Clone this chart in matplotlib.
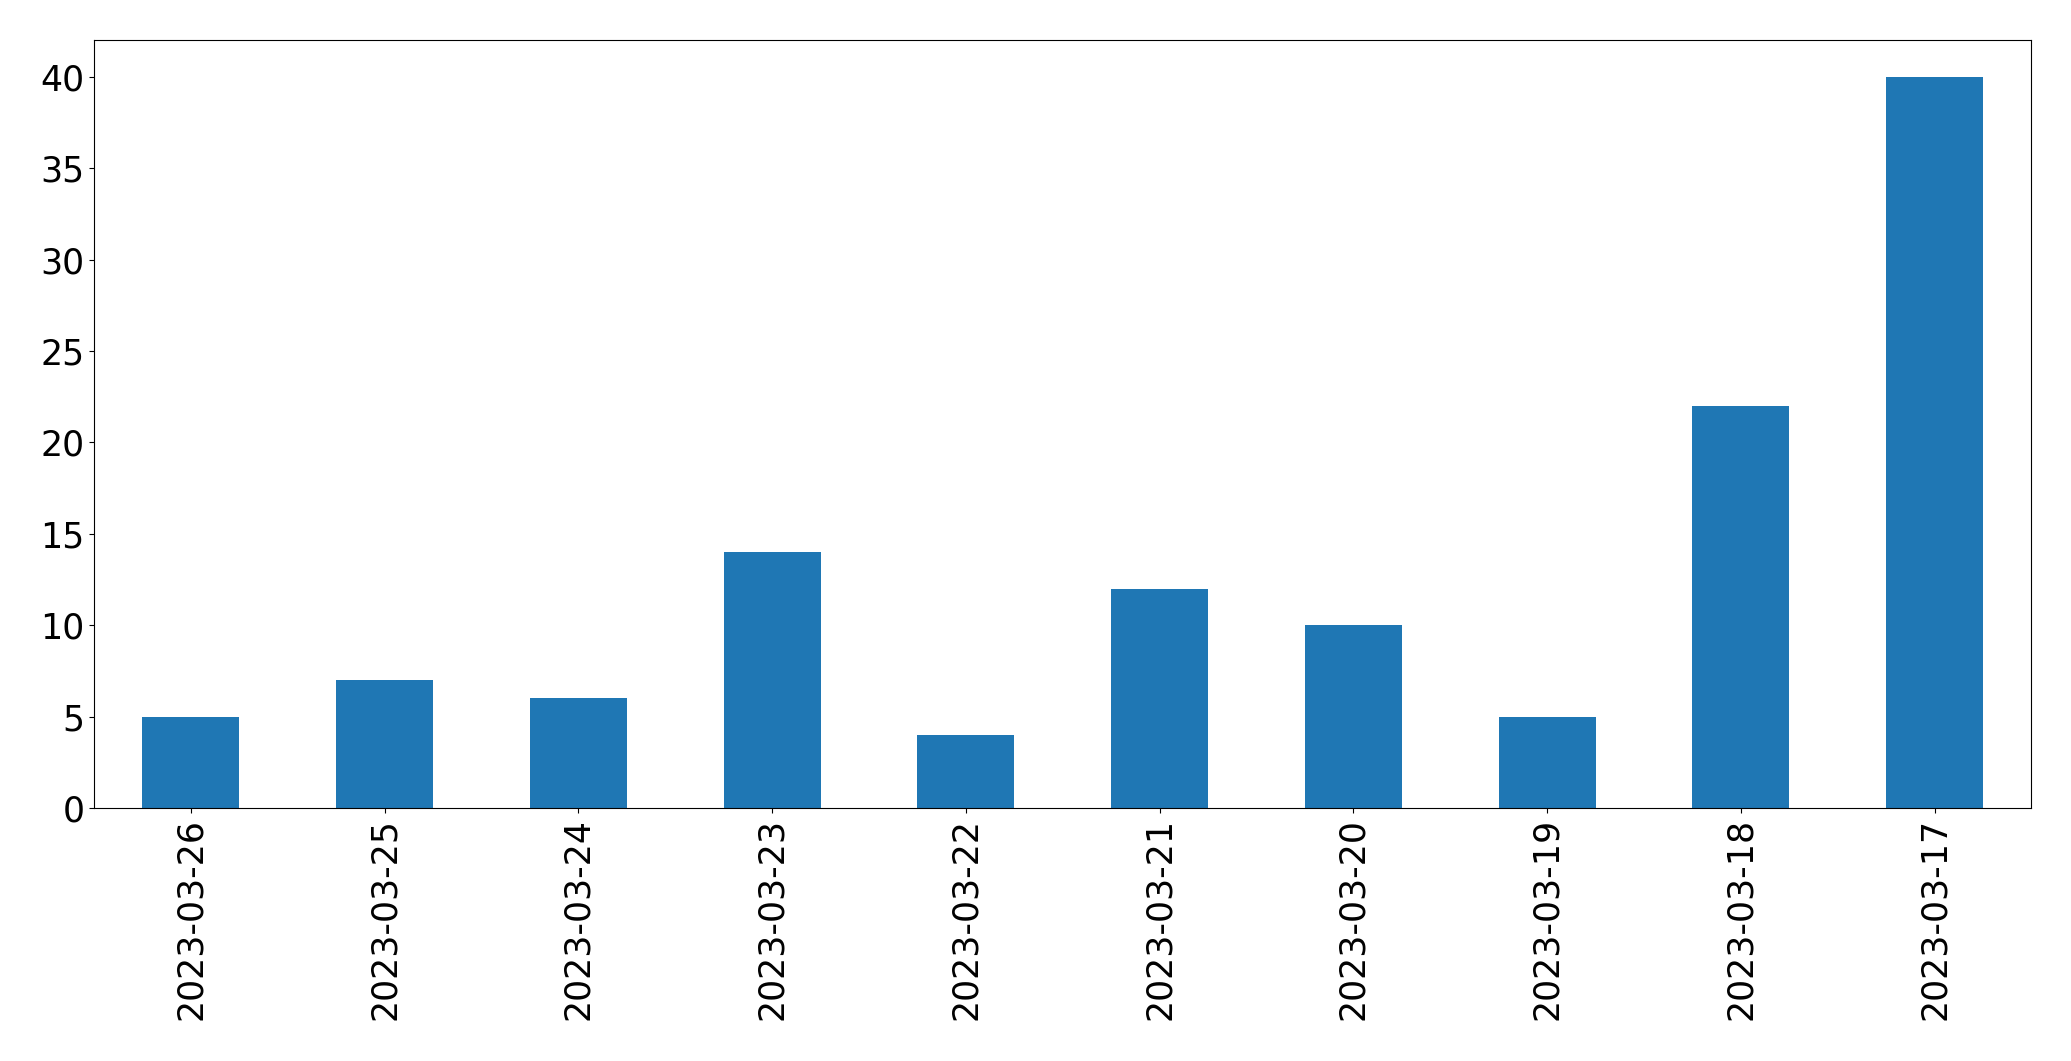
import matplotlib
matplotlib.use("Agg")
import matplotlib.pyplot as plt
import numpy as np

dates = ["2023-03-26", "2023-03-25", "2023-03-24", "2023-03-23", "2023-03-22",
         "2023-03-21", "2023-03-20", "2023-03-19", "2023-03-18", "2023-03-17"]
counts = [5, 7, 6, 14, 4, 12, 10, 5, 22, 40]

fig = plt.figure(figsize=(20.71, 10.61), dpi=100)
ax = fig.add_axes([0.0454, 0.2385, 0.9355, 0.7235])
x = np.arange(len(dates))
ax.bar(x, counts, width=0.5, color="#1f77b4")
ax.set_xlim(-0.5, len(dates) - 0.5)
ax.set_xticks(x)
ax.set_xticklabels(dates, rotation=90)
ax.set_yticks([0, 5, 10, 15, 20, 25, 30, 35, 40])
ax.tick_params(labelsize=25)
fig.savefig("out.png", dpi=100)
